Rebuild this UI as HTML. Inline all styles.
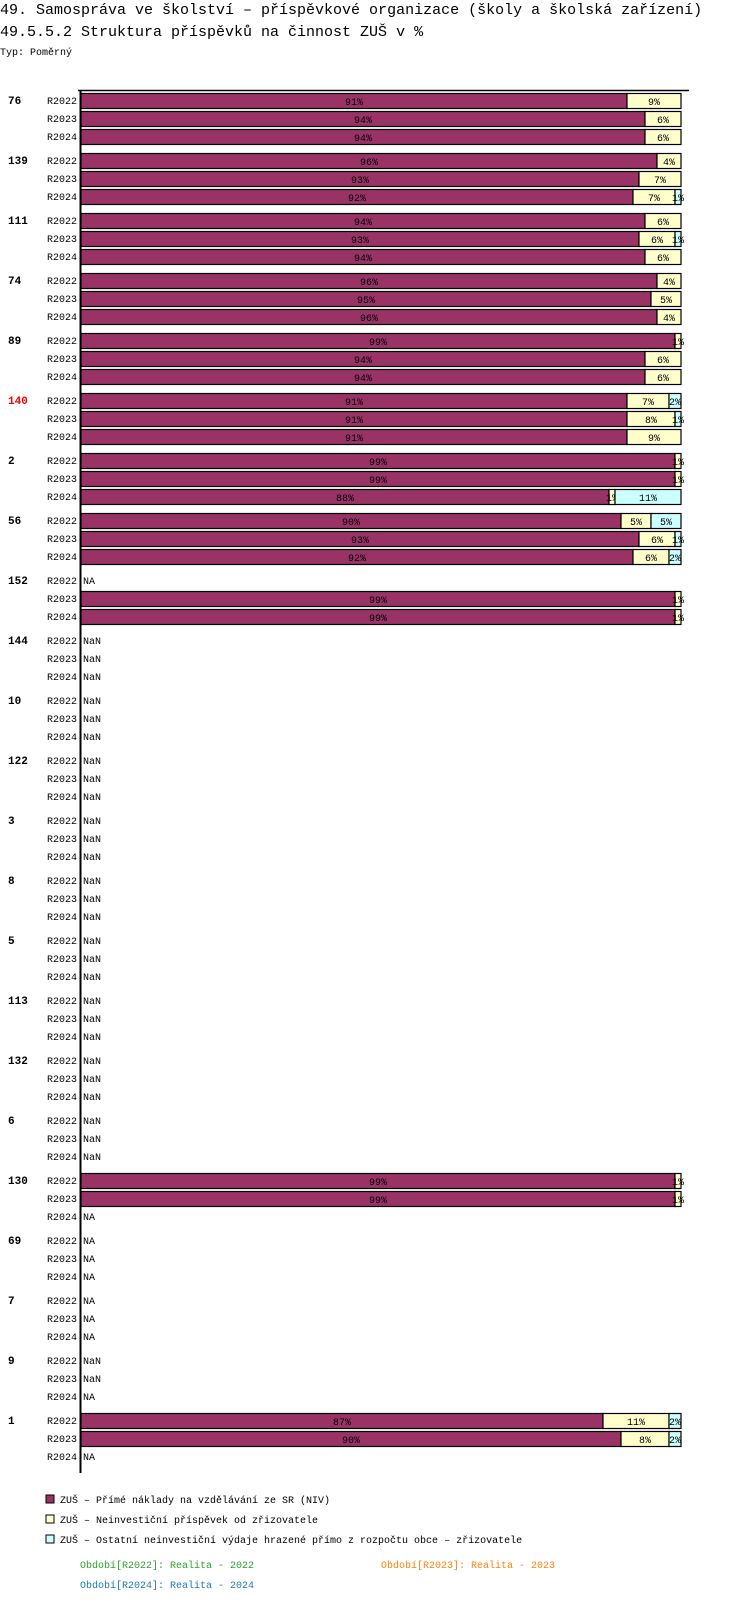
<!DOCTYPE html>
<html><head><meta charset="utf-8"><style>
body{margin:0;background:#fff;width:750px;height:1622px;overflow:hidden;font-family:"Liberation Mono",monospace}
svg{position:absolute;left:0;top:0}
</style></head><body>
<svg width="750" height="1622" xmlns="http://www.w3.org/2000/svg" id="chart">
<text x="0" y="14" font-size="15">49. Samospráva ve školství – příspěvkové organizace (školy a školská zařízení)</text>
<text x="0" y="36" font-size="15">49.5.5.2 Struktura příspěvků na činnost ZUŠ v %</text>
<text x="0" y="55" font-size="10">Typ: Poměrný</text>
<line x1="78" y1="90.5" x2="689" y2="90.5" stroke="#000" stroke-width="1.5"/>
<line x1="80.5" y1="90" x2="80.5" y2="1473" stroke="#000" stroke-width="2"/>
<g id="bars"></g>
<g>
<rect x="46" y="1495" width="8" height="8" fill="#993366" stroke="#000"/>
<text x="60" y="1503" font-size="10">ZUŠ – Přímé náklady na vzdělávání ze SR (NIV)</text>
<rect x="46" y="1515" width="8" height="8" fill="#ffffcc" stroke="#000"/>
<text x="60" y="1523" font-size="10">ZUŠ – Neinvestiční příspěvek od zřizovatele</text>
<rect x="46" y="1535" width="8" height="8" fill="#ccffff" stroke="#000"/>
<text x="60" y="1543" font-size="10">ZUŠ – Ostatní neinvestiční výdaje hrazené přímo z rozpočtu obce – zřizovatele</text>
<text x="80" y="1568" font-size="10" fill="#2ca02c">Období[R2022]: Realita - 2022</text>
<text x="381" y="1568" font-size="10" fill="#ff7f0e">Období[R2023]: Realita - 2023</text>
<text x="80" y="1588" font-size="10" fill="#1f77b4">Období[R2024]: Realita - 2024</text>
</g>
</svg>
<script>
const groups=["76","139","111","74","89","140","2","56","152","144","10","122","3","8","5","113","132","6","130","69","7","9","1"];
const periods=["R2022","R2023","R2024"];
const seriesNiv=[[91,94,94],[96,93,92],[94,93,94],[96,95,96],[99,94,94],[91,91,91],[99,99,88],[90,93,92],["NA",99,99],["NaN","NaN","NaN"],["NaN","NaN","NaN"],["NaN","NaN","NaN"],["NaN","NaN","NaN"],["NaN","NaN","NaN"],["NaN","NaN","NaN"],["NaN","NaN","NaN"],["NaN","NaN","NaN"],["NaN","NaN","NaN"],[99,99,"NA"],["NA","NA","NA"],["NA","NA","NA"],["NaN","NaN","NA"],[87,90,"NA"]];
const seriesZriz=[[9,6,6],[4,7,7],[6,6,6],[4,5,4],[1,6,6],[7,8,9],[1,1,1],[5,6,6],[0,1,1],[0,0,0],[0,0,0],[0,0,0],[0,0,0],[0,0,0],[0,0,0],[0,0,0],[0,0,0],[0,0,0],[1,1,0],[0,0,0],[0,0,0],[0,0,0],[11,8,0]];
const seriesOst=[[0,0,0],[0,0,1],[0,1,0],[0,0,0],[0,0,0],[2,1,0],[0,0,11],[5,1,2],[0,0,0],[0,0,0],[0,0,0],[0,0,0],[0,0,0],[0,0,0],[0,0,0],[0,0,0],[0,0,0],[0,0,0],[0,0,0],[0,0,0],[0,0,0],[0,0,0],[2,2,0]];
const colors=["#993366","#ffffcc","#ccffff"];
const NS="http://www.w3.org/2000/svg";
const X0=81,W=600;
function xs(v){return X0+v/100*W;}
function ys(g,r){return 93+g*60+r*18;}
const root=document.getElementById("bars");
function mk(tag,at){const e=document.createElementNS(NS,tag);for(const k in at)e.setAttribute(k,at[k]);return e;}
groups.forEach((gname,g)=>{
  const gl=mk("text",{x:8,y:ys(g,0)+11,"font-size":11,"font-weight":"bold",fill:gname==="140"?"#ff0000":"#000"});
  
  
  gl.textContent=gname;root.appendChild(gl);
  periods.forEach((p,r)=>{
    const y=ys(g,r);
    const pl=mk("text",{x:77,y:y+11,"font-size":10,"text-anchor":"end"});
    
    
    pl.textContent=p;root.appendChild(pl);
    const a=seriesNiv[g][r];
    if(typeof a!=="number"){
      const t=mk("text",{x:83,y:y+11,"font-size":10});
      
      
      t.textContent=a;root.appendChild(t);return;
    }
    const vals=[a,seriesZriz[g][r],seriesOst[g][r]];
    const tot=vals.reduce((s,v)=>s+v,0);
    let acc=0;
    vals.forEach((v,i)=>{
      if(v<=0)return;
      const x1=xs(acc/tot*100),x2=xs((acc+v)/tot*100);acc+=v;
      const rc=mk("rect",{x:x1,y:y+0.5,width:x2-x1,height:15,fill:colors[i],stroke:"#000","stroke-width":1.2});
      
      
      root.appendChild(rc);
      const t=mk("text",{x:(x1+x2)/2,y:y+12,"font-size":10,"text-anchor":"middle"});
      
      
      t.textContent=v+"%";root.appendChild(t);
    });
  });
});
</script>
</body></html>
